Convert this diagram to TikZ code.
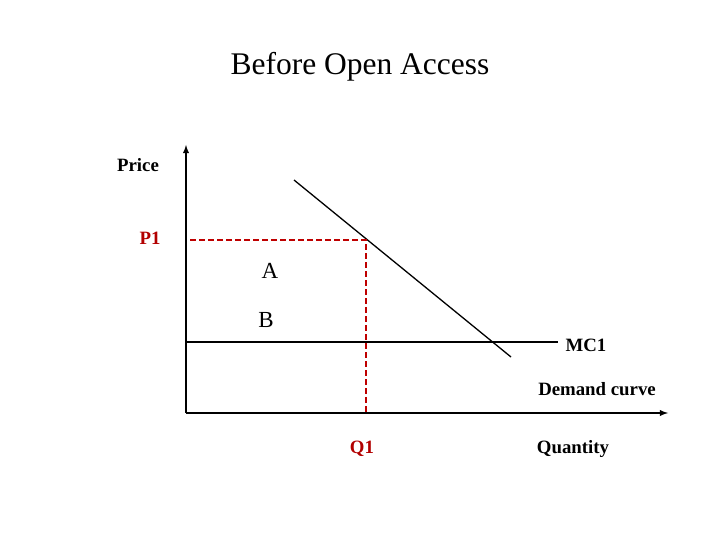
\documentclass[tikz,border=0pt]{standalone}
\usepackage{fontspec}
\setmainfont{Liberation Serif}
\begin{document}
\begin{tikzpicture}[x=1pt,y=-1pt,
  lab/.style={font=\bfseries\fontsize{18.8}{22}\selectfont},
  redtxt/.style={text=red!70!black},
  guide/.style={draw=red!75!black,line width=1.2pt,dash pattern=on 6pt off 3pt}]
\useasboundingbox (0,0) rectangle (720,540);
\coordinate (O) at (186,413);
\coordinate (Ytop) at (186,145);
\coordinate (Xend) at (668,413);
\draw[line width=1.8pt,-latex] (O) -- (Ytop);
\draw[line width=1.8pt,-latex] (O) -- (Xend);
\coordinate (D1) at (294,180);
\coordinate (D2) at (511,357);
\draw[line width=1.3pt] (D1) -- (D2);
\coordinate (M1) at (186,342);
\coordinate (M2) at (558,342);
\draw[line width=1.3pt] (M1) -- (M2);
\coordinate (P) at (190,240);
\coordinate (E) at (366,240);
\coordinate (Q) at (366,413);
\draw[guide] (P) -- (E) -- (Q);
\node (title) at (360,67) {\fontsize{31.5}{36}\selectfont Before Open Access};
\node[lab] (price) at (138,165) {Price};
\node[lab,redtxt] (p1) at (150,238) {P1};
\node (a) at (270,271) {\fontsize{23}{27}\selectfont A};
\node (b) at (266,320) {\fontsize{23}{27}\selectfont B};
\node[lab] (mc) at (586,345) {MC1};
\node[lab] (dc) at (597,389) {Demand curve};
\node[lab,redtxt] (q1) at (362,449) {Q1};
\node[lab] (qu) at (573,449) {Quantity};
\end{tikzpicture}
\end{document}
